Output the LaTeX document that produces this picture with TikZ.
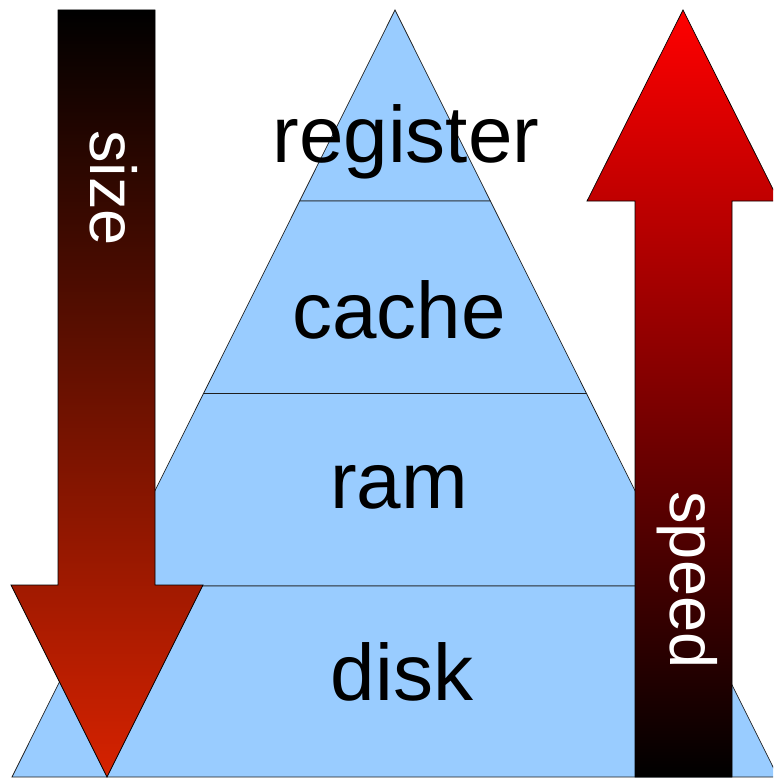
\documentclass[tikz,border=0pt]{standalone}
\usepackage{fontspec}
\setmainfont{Liberation Sans}
\usetikzlibrary{calc}
\definecolor{tierblue}{HTML}{99CCFF}
\definecolor{edgegray}{HTML}{1E1E1E}
\definecolor{sizered}{RGB}{214,34,0}
\begin{document}
\begin{tikzpicture}[x=1pt,y=-1pt,
  tier/.style={fill=tierblue,draw=edgegray,line width=0.7pt,line join=miter},
  tierlabel/.style={font=\fontsize{80}{80}\selectfont,anchor=base,inner sep=0pt},
  arrowbody/.style={draw=black,line width=0.7pt,line join=miter},
  arrowlabel/.style={font=\fontsize{65}{65}\selectfont,text=white,anchor=base,rotate=-90,inner sep=0pt}]
\useasboundingbox (0,0) rectangle (773,778);
\clip (0,0) rectangle (773,778);
% pyramid outline points
\coordinate (apex) at (395,10);
\coordinate (bl) at (12,777);
\coordinate (br) at (778,777);
\coordinate (l1) at ($(apex)!0.249!(bl)$);
\coordinate (r1) at ($(apex)!0.249!(br)$);
\coordinate (l2) at ($(apex)!0.5!(bl)$);
\coordinate (r2) at ($(apex)!0.5!(br)$);
\coordinate (l3) at ($(apex)!0.751!(bl)$);
\coordinate (r3) at ($(apex)!0.751!(br)$);
% tiers, top to bottom
\path[tier] (apex) -- (r1) -- (l1) -- cycle;
\path[tier] (l1) -- (r1) -- (r2) -- (l2) -- cycle;
\path[tier] (l2) -- (r2) -- (r3) -- (l3) -- cycle;
\path[tier] (l3) -- (r3) -- (br) -- (bl) -- cycle;
\node[tierlabel] (register) at (406,163) {register};
\node[tierlabel] (cache) at (399,338) {cache};
\node[tierlabel] (ram) at (399,508) {ram};
\node[tierlabel] (disk) at (402,700) {disk};
% downward arrow: size
\path[arrowbody,top color=black,bottom color=sizered]
  (58,10) -- (155,10) -- (155,585) -- (203,585) -- (107,777)
  -- (11,585) -- (58,585) -- cycle;
\node[arrowlabel] (size) at (90,188) {size};
% upward arrow: speed
\path[arrowbody,top color=red,bottom color=black]
  (683,10) -- (779,201) -- (732,201) -- (732,777) -- (635,777)
  -- (635,201) -- (587,201) -- cycle;
\node[arrowlabel] (speed) at (670,580) {speed};
\end{tikzpicture}
\end{document}
